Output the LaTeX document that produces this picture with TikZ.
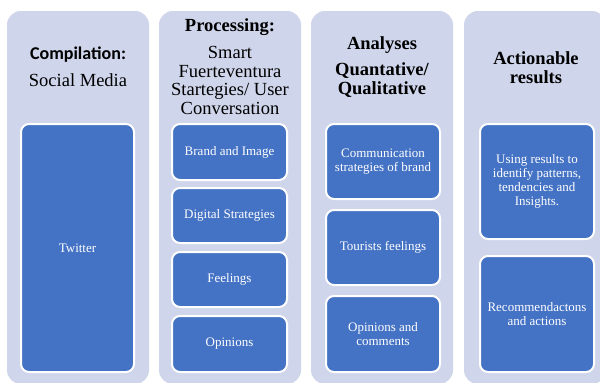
\documentclass[tikz,border=0pt]{standalone}
\usepackage{fontspec}
\setmainfont{Liberation Serif}
\newfontfamily\calib{Carlito}
\definecolor{colbg}{HTML}{CFD5EA}
\definecolor{boxblue}{HTML}{4472C4}
\tikzset{
  column/.style={fill=colbg, rounded corners=14pt, draw=none},
  item/.style={fill=boxblue, draw=white, line width=2pt, rounded corners=8pt,
    text=white, align=center, inner sep=2pt,
    font=\fontsize{13}{13.8}\selectfont},
  title/.style={align=center, text=black, inner sep=0pt,
    font=\fontsize{18.5}{18.7}\selectfont},
  btitle/.style={title, font=\bfseries\fontsize{18.5}{18.7}\selectfont}
}
\begin{document}
\begin{tikzpicture}[x=1pt,y=-1pt]
\useasboundingbox (0,0) rectangle (600,383);
\fill[white] (0,0) rectangle (600,383);
% columns
\path[column] (7,11) rectangle (149,384);
\path[column] (159,11) rectangle (301,384);
\path[column] (311,11) rectangle (453,384);
\path[column] (464,11) rectangle (606,384);
% titles
\node[title, font=\calib\bfseries\fontsize{18}{19}\selectfont] (t1a) at (78,55) {Compilation:};
\node[title] (t1b) at (78,80) {Social Media};
\node[btitle] (t2a) at (230,27) {Processing:};
\node[title] (t2b) at (230,80.5) {Smart\\Fuerteventura\\Startegies/ User\\Conversation};
\node[btitle] (t3a) at (382,45.5) {Analyses};
\node[btitle] (t3b) at (382,80) {Quantative/\\Qualitative};
\node[btitle] (t4a) at (536,67.5) {Actionable\\results};
% items
\node[item, minimum width=113pt, minimum height=248pt] (tw) at (77.5,248) {Twitter};
\node[item, minimum width=115pt, minimum height=56pt] (b1) at (229.5,152) {Brand and Image};
\node[item, minimum width=115pt, minimum height=55pt] (b2) at (229.5,215.5) {Digital Strategies};
\node[item, minimum width=115pt, minimum height=55pt] (b3) at (229.5,279.5) {Feelings};
\node[item, minimum width=115pt, minimum height=56pt] (b4) at (229.5,344) {Opinions};
\node[item, minimum width=114pt, minimum height=75pt] (c1) at (383,161.5) {Communication\\strategies of brand};
\node[item, minimum width=114pt, minimum height=75pt] (c2) at (383,247.5) {Tourists feelings};
\node[item, minimum width=114pt, minimum height=76pt] (c3) at (383,334) {Opinions and\\comments};
\node[item, minimum width=114pt, minimum height=115pt] (d1) at (537,181.5) {Using results to\\identify patterns,\\tendencies and\\Insights.};
\node[item, minimum width=114pt, minimum height=116pt] (d2) at (537,314) {Recommendactons\\and actions};
\end{tikzpicture}
\end{document}
